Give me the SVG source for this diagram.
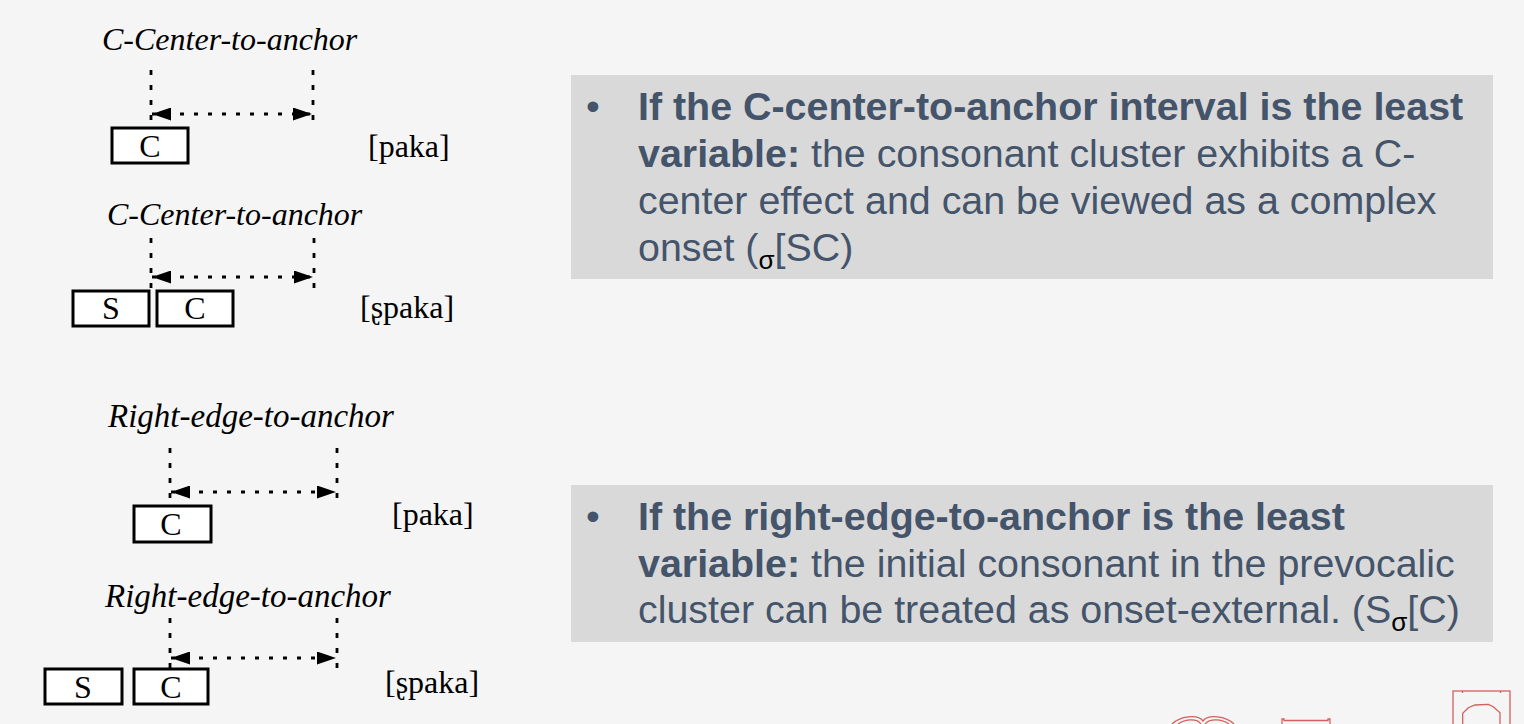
<svg xmlns="http://www.w3.org/2000/svg" width="1524" height="724" viewBox="0 0 1524 724">
  <style>
    .label { font-family: "Liberation Serif", "Times New Roman", serif; font-style: italic; font-size: 32px; fill: #000; }
    .seg { font-family: "Liberation Serif", "Times New Roman", serif; font-size: 32px; fill: #000; text-anchor: middle; }
    .ipa { font-family: "Liberation Serif", "Times New Roman", serif; font-size: 32px; fill: #000; }
    .box { fill: #ffffff; stroke: #000; stroke-width: 3; }
    .guide { stroke: #000; stroke-width: 2.8; stroke-dasharray: 5 10; fill: none; }
    .span { stroke: #000; stroke-width: 2.8; stroke-dasharray: 4 10; fill: none; marker-start: url(#head); marker-end: url(#head); }
    .panel { fill: #d9d9d9; }
    .note { font-family: "Liberation Sans", Arial, sans-serif; font-size: 39.4px; fill: #44546a; }
    .note .b { font-weight: bold; }
    .note .sig { fill: #000; font-size: 26px; }
    .logo { fill: none; stroke: #d2605c; stroke-width: 1.3; }
  </style>
  <defs>
    <marker id="head" viewBox="0 0 19 13" refX="19" refY="6.5" markerWidth="19" markerHeight="13" markerUnits="userSpaceOnUse" orient="auto-start-reverse">
      <path d="M0,0 L19,6.5 L0,13 Z" fill="#000"/>
    </marker>
  </defs>

  <rect width="1524" height="724" fill="#f5f5f5"/>

  <!-- timing schematic: C-center to anchor, singleton -->
  <g id="cc-single">
    <text class="label" x="102" y="50">C-Center-to-anchor</text>
    <rect class="box" x="112" y="128" width="76" height="35"/>
    <text class="seg" x="150" y="157">C</text>
    <text class="ipa" x="368" y="157">[paka]</text>
  </g>

  <!-- timing schematic: C-center to anchor, cluster -->
  <g id="cc-cluster">
    <text class="label" x="107" y="225">C-Center-to-anchor</text>
    <rect class="box" x="73" y="291" width="76" height="35"/>
    <text class="seg" x="111" y="319">S</text>
    <rect class="box" x="157" y="291" width="76" height="35"/>
    <text class="seg" x="195" y="319">C</text>
    <text class="ipa" x="360" y="318">[ʂpaka]</text>
  </g>

  <!-- timing schematic: right edge to anchor, singleton -->
  <g id="re-single">
    <text class="label" x="108" y="427" style="font-size:33px">Right-edge-to-anchor</text>
    <rect class="box" x="134" y="506" width="77" height="36"/>
    <text class="seg" x="171" y="535">C</text>
    <text class="ipa" x="392" y="525">[paka]</text>
  </g>

  <!-- timing schematic: right edge to anchor, cluster -->
  <g id="re-cluster">
    <text class="label" x="105" y="607" style="font-size:33px">Right-edge-to-anchor</text>
    <rect class="box" x="45" y="669" width="77" height="35"/>
    <text class="seg" x="83" y="698">S</text>
    <rect class="box" x="134" y="669" width="74" height="35"/>
    <text class="seg" x="171" y="698">C</text>
    <text class="ipa" x="385" y="693">[ʂpaka]</text>
  </g>

  <!-- guide lines and interval arrows -->
  <g id="connectors">
    <path class="guide" d="M151,70 V124 M313,70 V124"/>
    <path class="span" d="M152,114 H312"/>
    <path class="guide" d="M151,238 V291 M314,238 V291"/>
    <path class="span" d="M152,277 H313"/>
    <path class="guide" d="M170,448 V503 M337,448 V503"/>
    <path class="span" d="M171,492 H336"/>
    <path class="guide" d="M170,618 V673 M337,618 V671"/>
    <path class="span" d="M171,658 H336"/>
  </g>

  <!-- interpretation panels -->
  <g id="note-cc">
    <rect class="panel" x="571" y="75" width="922" height="204"/>
    <text class="note" x="586" y="120">•</text>
    <text class="note" x="638" y="120"><tspan class="b">If the C-center-to-anchor interval is the least</tspan></text>
    <text class="note" x="638" y="167"><tspan class="b">variable:</tspan> the consonant cluster exhibits a C-</text>
    <text class="note" x="638" y="214">center effect and can be viewed as a complex</text>
    <text class="note" x="638" y="261">onset (<tspan class="sig" dy="8">σ</tspan><tspan dy="-8">[SC)</tspan></text>
  </g>

  <g id="note-re">
    <rect class="panel" x="571" y="485" width="922" height="157"/>
    <text class="note" x="586" y="530">•</text>
    <text class="note" x="638" y="530"><tspan class="b">If the right-edge-to-anchor is the least</tspan></text>
    <text class="note" x="638" y="577"><tspan class="b">variable:</tspan> the initial consonant in the prevocalic</text>
    <text class="note" x="638" y="623">cluster can be treated as onset-external. (S<tspan class="sig" dy="8">σ</tspan><tspan dy="-8">[C)</tspan></text>
  </g>

  <!-- emblem outlines along the lower edge -->
  <g id="emblem">
    <path class="logo" d="M1172,724 C1180,716 1198,714 1203,721 C1208,714 1226,716 1234,724"/>
    <path class="logo" d="M1178,724 C1185,719 1197,718 1201,724 M1205,724 C1210,718 1222,719 1229,724"/>
    <path class="logo" d="M1282,724 V719 H1284 V720.5 H1328 V719 H1330 V724"/>
    <rect class="logo" x="1453" y="691" width="57" height="40"/>
    <path class="logo" d="M1462.5,691 V693 M1500.5,691 V693"/>
    <path class="logo" d="M1462.7,724 V713.3 L1468.3,707.7 L1475,705 L1488.3,704.3 L1493.3,706.7 L1500,712.7 V724"/>
  </g>
</svg>
